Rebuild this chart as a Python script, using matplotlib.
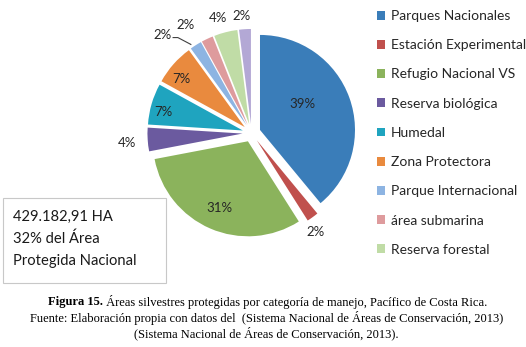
import numpy as np
import matplotlib
matplotlib.use('Agg')
from matplotlib import pyplot as plt
from matplotlib.patches import Rectangle

# datos del gráfico
categorias = ['Parques Nacionales', 'Estación Experimental', 'Refugio Nacional VS',
              'Reserva biológica', 'Humedal', 'Zona Protectora',
              'Parque Internacional', 'área submarina', 'Reserva forestal', 'Otra']
porcentajes = [39, 2, 31, 4, 7, 7, 2, 2, 4, 2]
colores = ['#3a7db9', '#c0504d', '#8bb35c', '#6b5a9f', '#1fa4bf', '#e98a3e',
           '#8db4e2', '#de9b9d', '#c0dca6', '#b3a8d5']

# posición de las etiquetas (radio, giro extra en grados)
radio_etq = [0.62, 1.24, 0.86, 1.31, 0.95, 0.93, 1.39, 1.33, 1.26, 1.24]
giro_etq = [10, -3, 0, 1, 3, 4, 10, 6, 2, 1]

W, H = 526, 347
fig = plt.figure(figsize=(W / 100, H / 100), dpi=100)

# eje del pastel: centro en (251.5, 133) px, radio 95 px
R = 95
cx, cy = 251.5, H - 133
lado = 2.6 * R
ax = fig.add_axes([(cx - lado / 2) / W, (cy - lado / 2) / H, lado / W, lado / H])
wedges, _ = ax.pie(porcentajes, colors=colores, startangle=90, counterclock=False,
                   explode=[0.095] * len(porcentajes), radius=1,
                   wedgeprops=dict(linewidth=0))
ax.set_xlim(-1.3, 1.3)
ax.set_ylim(-1.3, 1.3)
ax.set_aspect('equal')
ax.set_axis_off()

fuente = 'Lato'
for w, p, r, g in zip(wedges, porcentajes, radio_etq, giro_etq):
    ang = np.deg2rad((w.theta1 + w.theta2) / 2 + g)
    ax.text(r * np.cos(ang), r * np.sin(ang), '{}%'.format(p), ha='center', va='center',
            fontsize=9.5, family=fuente, color='#262626')

# línea guía del 2% (Parque Internacional)
w = wedges[6]
a1 = np.deg2rad((w.theta1 + w.theta2) / 2 + 7)
a2 = np.deg2rad((w.theta1 + w.theta2) / 2 + 2)
ax.plot([1.30 * np.cos(a1), 1.30 * np.cos(a1) + 0.05, 1.13 * np.cos(a2)],
        [1.30 * np.sin(a1), 1.30 * np.sin(a1), 1.13 * np.sin(a2)],
        color='#404040', lw=0.8)

# leyenda (sin la última categoría)
leg = fig.legend(wedges[:9], categorias[:9], loc='upper left',
                 bbox_to_anchor=(377 / W, 1 - 10 / H), frameon=False,
                 handlelength=0.6, handleheight=0.6, handletextpad=0.4,
                 labelspacing=1.24, borderpad=0, borderaxespad=0,
                 prop=dict(family=fuente, size=10))
for t in leg.get_texts():
    t.set_color('#262626')

# cuadro de texto
fig.patches.append(Rectangle((3 / W, 1 - 283 / H), 163 / W, 85 / H,
                             transform=fig.transFigure, facecolor='white',
                             edgecolor='#c8c8c8', linewidth=0.8))
fig.text(13 / W, 1 - 239 / H, '429.182,91 HA\n32% del Área\nProtegida Nacional',
         ha='left', va='center', fontsize=10.6, family=fuente, color='#1a1a1a',
         linespacing=1.7)

# pie de figura
serif = 'Liberation Serif'
fig.canvas.draw()
r = fig.canvas.get_renderer()
t1 = fig.text(0, 1 - 302 / H, 'Figura 15.', family=serif, fontsize=9,
              fontweight='bold', va='center', ha='left')
t2 = fig.text(0, 1 - 302 / H,
              ' Áreas silvestres protegidas por categoría de manejo, Pacífico de Costa Rica.',
              family=serif, fontsize=9, va='center', ha='left')
w1 = t1.get_window_extent(r).width
w2 = t2.get_window_extent(r).width
x0 = 268 - (w1 + w2) / 2
t1.set_x(x0 / W)
t2.set_x((x0 + w1) / W)
fig.text(267 / W, 1 - 318 / H,
         'Fuente: Elaboración propia con datos del  (Sistema Nacional de Áreas de Conservación, 2013)',
         family=serif, fontsize=9, ha='center', va='center')
fig.text(266 / W, 1 - 333 / H, '(Sistema Nacional de Áreas de Conservación, 2013).',
         family=serif, fontsize=9, ha='center', va='center')

fig.savefig('out.png', dpi=100)
